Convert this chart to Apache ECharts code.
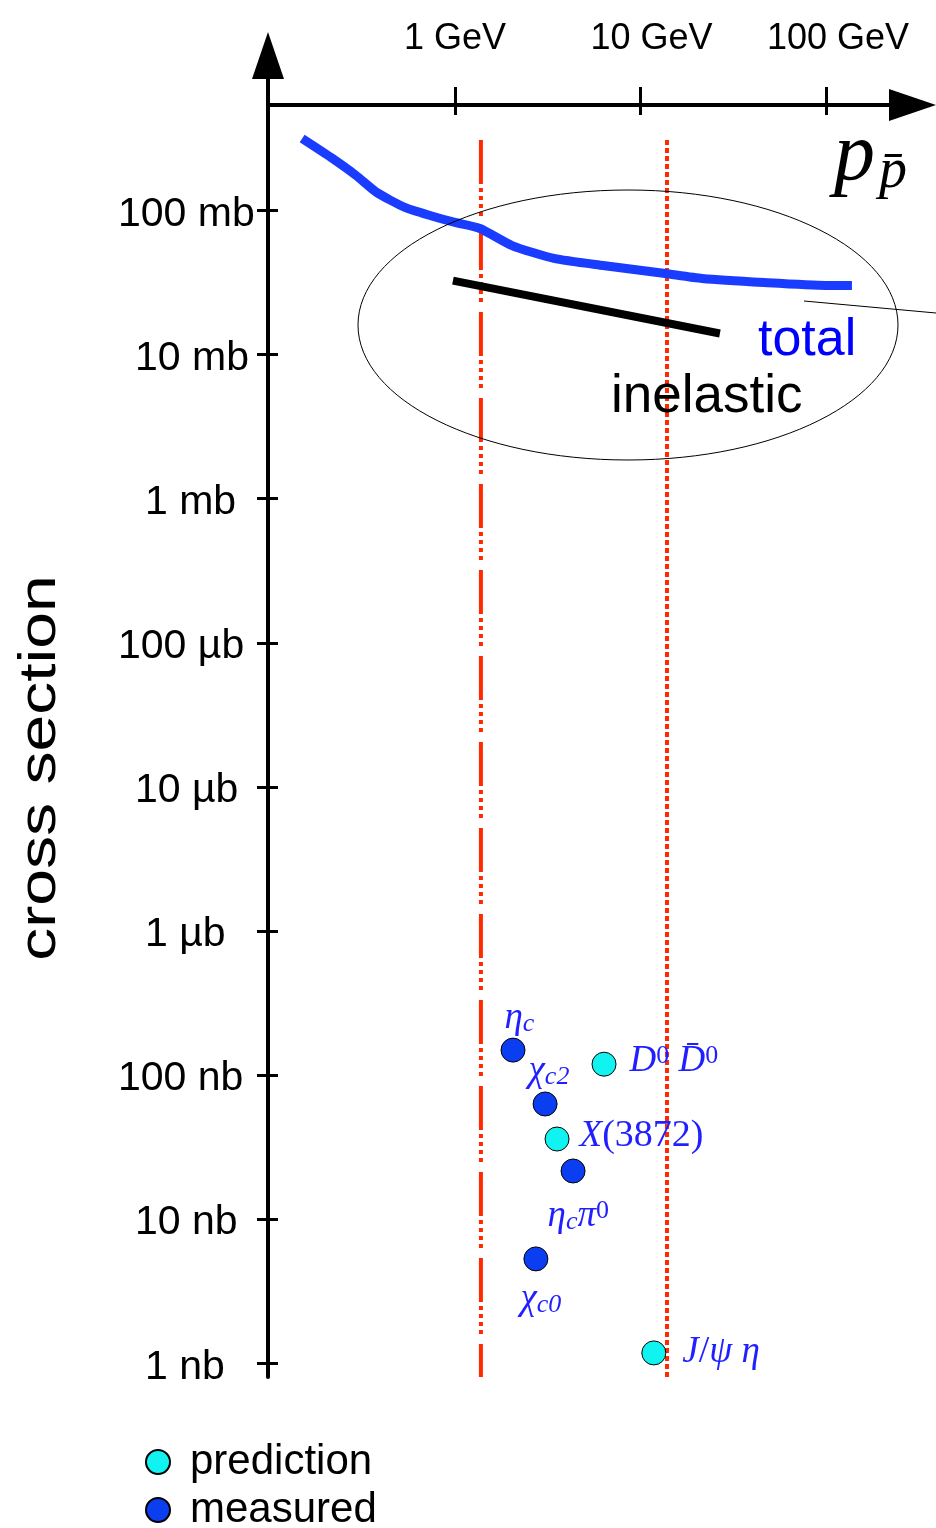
<!DOCTYPE html>
<html><head><meta charset="utf-8">
<script src="https://cdn.jsdelivr.net/npm/echarts@6/dist/echarts.min.js"></script>
<style>html,body{margin:0;padding:0;background:#fff}#c{width:936px;height:1528px}</style>
</head><body><div id="c"></div>
<script>
// ---- axis ticks ----
const xTickValues = [1, 10, 100];
const xTickLabels = ['1 GeV', '10 GeV', '100 GeV'];
const yTickValues = [1, 10, 100, 1e3, 1e4, 1e5, 1e6, 1e7, 1e8];
const yTickLabels = ['1 nb', '10 nb', '100 nb', '1 µb', '10 µb', '100 µb', '1 mb', '10 mb', '100 mb'];
const xRange = [0.0982, 292.6];   // GeV/c
const yRange = [0.803, 1.19e9];   // nb

// ---- total p-pbar cross section (momentum GeV/c, sigma mb) ----
const totalP  = [0.150, 0.215, 0.293, 0.380, 0.537, 0.733, 1.0, 1.364, 2.03, 3.42, 6.28, 13.6, 21.5, 46.3, 100, 138];
const totalMb = [316, 233, 175, 133, 105, 92.3, 82.6, 75, 57.1, 46.5, 41.5, 36.5, 33.7, 31.6, 30.2, 30.2];
// ---- inelastic ----
const inelP  = [0.975, 26.8];
const inelMb = [32.6, 14.0];
// ---- momentum range markers (GeV/c) and their vertical span (nb) ----
const rangeP = [1.38, 13.9];
const rangeSpan = [3.08e8, 0.803];

// ---- channels (momentum GeV/c, sigma nb) ----
const predNames = ['D0D0bar', 'X3872', 'Jpsieta'];
const predP  = [6.36, 3.55, 11.8];
const predNb = [119, 36, 1.18];
const measNames = ['etac', 'chic2', 'etacpi0', 'chic0'];
const measP  = [2.055, 3.06, 4.33, 2.73];
const measNb = [149, 63, 21.6, 5.3];

// ---- label text & placement (style) ----
const labelText = {
  etac: '{m|η}{s|c}',
  chic2: '{m|χ}{s|c2}',
  etacpi0: '{m|η}{s|c}{m|π}{u|0}',
  chic0: '{m|χ}{s|c0}',
  D0D0bar: '{m|D}{u|0}{m| D\u0304}{u|0}',
  X3872: '{m|X}{r|(3872)}',
  Jpsieta: '{m|J}{r|/}{m|ψ η}'
};
const labelPos = {
  etac: [4, -19], chic2: [-4, -20], etacpi0: [-13, 58], chic0: [-3, 53],
  D0D0bar: [38, 10], X3872: [35, 10], Jpsieta: [41, 12]
};
const yLabelPadLeft = [27, 17, 0, 27, 17, 0, 27, 17, 0];
const xLabelPadLeft = [0, 22, 24];

const SANS = '"Liberation Sans", Arial, Helvetica, sans-serif';
const SERIF = '"Liberation Serif", "DejaVu Serif", "Times New Roman", serif';
const LBLUE = '#1f1fff';
const rich = {
  m: {fontFamily: SERIF, fontStyle: 'italic', fontSize: 37, lineHeight: 37, color: LBLUE},
  r: {fontFamily: SERIF, fontSize: 38, lineHeight: 37, color: LBLUE},
  s: {fontFamily: SERIF, fontStyle: 'italic', fontSize: 26, lineHeight: 17, verticalAlign: 'bottom', color: LBLUE},
  u: {fontFamily: SERIF, fontSize: 26, lineHeight: 17, verticalAlign: 'top', color: LBLUE}
};

function pts(xs, ys, k) { return xs.map((x, i) => [x, ys[i] * (k || 1)]); }
function chan(names, xs, ys) {
  return names.map((n, i) => ({
    name: n, value: [xs[i], ys[i]],
    label: {show: true, formatter: labelText[n], position: labelPos[n], align: 'left', verticalAlign: 'middle', rich: rich}
  }));
}
function idxOf(vals, v) {
  for (let i = 0; i < vals.length; i++) if (Math.abs(Math.log10(v) - Math.log10(vals[i])) < 1e-6) return i;
  return -1;
}
const yRich = {}, xRich = {};
yLabelPadLeft.forEach((p, i) => { yRich['k' + i] = {fontFamily: SANS, fontSize: 41, color: '#000', padding: [8, 0, 0, p]}; });
xLabelPadLeft.forEach((p, i) => { xRich['k' + i] = {fontFamily: SANS, fontSize: 36, color: '#000', padding: [0, 0, 0, p]}; });

const GRID = {left: 268, right: 23.5, top: 55.5, bottom: 151};
const AX = {color: '#000', width: 4};
const legendBase = {
  orient: 'vertical', left: 145, padding: 0, itemGap: 5, itemWidth: 24, itemHeight: 24,
  textStyle: {fontFamily: SANS, fontSize: 42, lineHeight: 42, color: '#000', padding: [0, 0, 0, 15]}
};

const chart = echarts.init(document.getElementById('c'), null, {renderer: 'canvas'});
const option = {
  animation: false,
  backgroundColor: '#fff',
  grid: GRID,
  xAxis: [{
    type: 'log', logBase: 10, min: xRange[0], max: xRange[1], position: 'top', offset: -49.5,
    axisLine: {show: true, lineStyle: AX, symbol: ['none', 'triangle'], symbolSize: [32, 47]},
    axisTick: {show: true, inside: false, length: 18, lineStyle: {color: '#000', width: 3}, customValues: xTickValues},
    axisLabel: {show: true, customValues: xTickValues, margin: 48, align: 'center',
      formatter: v => { const i = idxOf(xTickValues, v); return i < 0 ? '' : '{k' + i + '|' + xTickLabels[i] + '}'; },
      rich: xRich},
    splitLine: {show: false}, minorTick: {show: false}
  }, {
    type: 'log', logBase: 10, min: xRange[0], max: xRange[1], position: 'top', offset: -49.5,
    axisLine: {show: false},
    axisTick: {show: true, inside: true, length: 10, lineStyle: {color: '#000', width: 3}, customValues: xTickValues},
    axisLabel: {show: false}, splitLine: {show: false}
  }],
  yAxis: [{
    type: 'log', logBase: 10, min: yRange[0], max: yRange[1], position: 'left',
    axisLine: {show: true, lineStyle: AX, symbol: ['none', 'triangle'], symbolSize: [32, 47]},
    axisTick: {show: true, inside: false, length: 11, lineStyle: {color: '#000', width: 3}, customValues: yTickValues},
    axisLabel: {show: true, customValues: yTickValues, margin: 150, align: 'left',
      formatter: v => { const i = idxOf(yTickValues, v); return i < 0 ? '' : '{k' + i + '|' + yTickLabels[i] + '}'; },
      rich: yRich},
    splitLine: {show: false}, minorTick: {show: false}
  }, {
    type: 'log', logBase: 10, min: yRange[0], max: yRange[1], position: 'left',
    axisLine: {show: false},
    axisTick: {show: true, inside: true, length: 10, lineStyle: {color: '#000', width: 3}, customValues: yTickValues},
    axisLabel: {show: false}, splitLine: {show: false}
  }],
  legend: [
    Object.assign({}, legendBase, {top: 1441, data: ['prediction']}),
    Object.assign({}, legendBase, {top: 1489, data: ['measured']})
  ],
  series: [
    {name: 'range low', type: 'line', data: rangeSpan.map(y => [rangeP[0], y]), symbol: 'none', silent: true,
      lineStyle: {color: '#ff2a00', width: 4, type: [44, 4, 4, 4, 4, 4, 4, 4, 4, 10], cap: 'butt'}, z: 2},
    {name: 'range high', type: 'line', data: rangeSpan.map(y => [rangeP[1], y]), symbol: 'none', silent: true,
      lineStyle: {color: '#ff2a00', width: 4, type: [5, 3], cap: 'butt'}, z: 2},
    {name: 'total', type: 'line', data: pts(totalP, totalMb, 1e6), symbol: 'none', smooth: 0.2,
      lineStyle: {color: '#1a3cff', width: 9, cap: 'butt', join: 'round'}, z: 3},
    {name: 'inelastic', type: 'line', data: pts(inelP, inelMb, 1e6), symbol: 'none',
      lineStyle: {color: '#000', width: 8, cap: 'butt'}, z: 3},
    {name: 'prediction', type: 'scatter', data: chan(predNames, predP, predNb), symbol: 'circle', symbolSize: 24,
      itemStyle: {color: '#11f3f0', borderColor: '#000', borderWidth: 1, opacity: 1}, z: 5},
    {name: 'measured', type: 'scatter', data: chan(measNames, measP, measNb), symbol: 'circle', symbolSize: 24,
      itemStyle: {color: '#0b3ef0', borderColor: '#000', borderWidth: 1, opacity: 1}, z: 5}
  ],
  graphic: [
    {type: 'ellipse', shape: {cx: 628, cy: 325, rx: 270, ry: 135}, style: {fill: 'none', stroke: '#000', lineWidth: 1}, silent: true, z: 4},
    {type: 'line', shape: {x1: 804, y1: 301, x2: 936, y2: 313}, style: {stroke: '#000', lineWidth: 1}, silent: true, z: 4},
    {type: 'text', x: 758, y: 341, style: {text: 'total', font: '52px ' + SANS, fill: '#0000ff', align: 'left', verticalAlign: 'middle'}, z: 6},
    {type: 'text', x: 611, y: 397, style: {text: 'inelastic', font: '53px ' + SANS, fill: '#000', align: 'left', verticalAlign: 'middle'}, z: 6},
    {type: 'text', x: 834, y: 157, style: {text: 'p', font: 'italic 82px ' + SERIF, fill: '#000', align: 'left', verticalAlign: 'middle'}, z: 6},
    {type: 'text', x: 879, y: 172, style: {text: 'p\u0304', font: 'italic 56px ' + SERIF, fill: '#000', align: 'left', verticalAlign: 'middle'}, z: 6},
    {type: 'text', x: 41, y: 768, rotation: Math.PI / 2, scaleX: 1.27, style: {text: 'cross section', font: '52px ' + SANS, fill: '#000', align: 'center', verticalAlign: 'middle'}, z: 6}
  ]
};
chart.setOption(option);
</script>
</body></html>
